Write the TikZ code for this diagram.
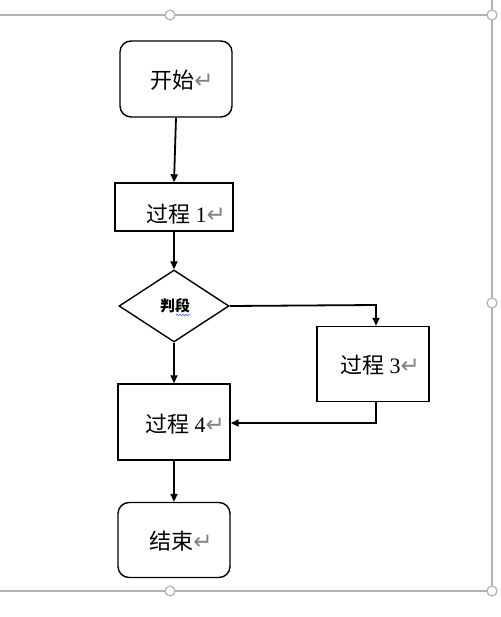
\documentclass[tikz,border=0pt]{standalone}
\usepackage{fontspec}
\setmainfont{Liberation Serif}
\newfontfamily\cjk{Noto Sans CJK SC}
\newfontfamily\symf{DejaVu Sans}
\usetikzlibrary{arrows.meta,shapes.geometric,decorations.pathmorphing}
\definecolor{frameg}{RGB}{178,178,178}
\definecolor{retg}{RGB}{130,130,130}
\definecolor{wavyb}{RGB}{70,110,200}
\newcommand{\retmark}{{\color{retg}\symf\fontsize{23}{23}\selectfont ↵}}
\begin{document}
\begin{tikzpicture}[x=1pt,y=-1pt,
  shapebox/.style={draw=black,line width=1.4pt,inner sep=0pt},
  roundbox/.style={shapebox,rectangle,rounded corners=11pt},
  procbox/.style={shapebox,rectangle},
  decbox/.style={shapebox,diamond,aspect=1.5},
  lbl/.style={inner sep=0pt,font=\fontsize{22}{22}\selectfont},
  conn/.style={line width=1.8pt,-{Triangle[length=8pt,width=7pt]}},
  frameline/.style={draw=frameg,line width=1.4pt},
  handle/.style={circle,draw=frameg,fill=white,line width=1.2pt,minimum size=10pt,inner sep=0pt}]
\useasboundingbox (0,0) rectangle (500,617);
% selection frame
\coordinate (ftl) at (0,15);
\coordinate (ftr) at (492,15);
\coordinate (fbl) at (0,591);
\coordinate (fbr) at (492,591);
\coordinate (frt) at (492,0);
\draw[frameline] (ftl) -- (ftr);
\draw[frameline] (fbl) -- (fbr);
\draw[frameline] (frt) -- (fbr);
\node[handle] (h1) at (170,15) {};
\node[handle] (h2) at (492,15) {};
\node[handle] (h3) at (492,303) {};
\node[handle] (h4) at (170,591) {};
\node[handle] (h5) at (492,591) {};
% shapes
\node[roundbox,minimum width=112pt,minimum height=76pt] (start) at (176,79) {};
\node[lbl] (startt) at (182,80) {\cjk 开始\retmark};
\node[procbox,minimum width=118pt,minimum height=48pt] (p1) at (174,207) {};
\node[lbl] (p1t) at (186,214) {{\cjk 过程} 1\retmark};
\node[decbox,minimum width=110pt,minimum height=72pt] (dec) at (174,306) {};
\node[inner sep=0pt,font=\cjk\bfseries\fontsize{15}{15}\selectfont] (dect) at (175,306) {判段};
\draw[wavyb,line width=0.6pt,decorate,decoration={snake,amplitude=0.8pt,segment length=3pt}] ([xshift=1pt,yshift=-1.5pt]dect.south) -- ([yshift=-1.5pt]dect.south east);
\node[procbox,minimum width=112pt,minimum height=75pt] (p3) at (373,364) {};
\node[lbl] (p3t) at (380,365) {{\cjk 过程} 3\retmark};
\node[procbox,minimum width=112pt,minimum height=76pt] (p4) at (174,422) {};
\node[lbl] (p4t) at (185,424) {{\cjk 过程} 4\retmark};
\node[roundbox,minimum width=112pt,minimum height=75pt] (end) at (174,540) {};
\node[lbl] (endt) at (181,541) {\cjk 结束\retmark};
% connectors
\draw[conn] (start.south) -- (p1.north);
\draw[conn] (p1.south) -- (dec.north);
\draw[conn] (dec.south) -- (p4.north);
\draw[conn] (p4.south) -- (end.north);
\coordinate (c1) at (376,305);
\coordinate (c2) at (376,423);
\draw[conn] (dec.east) -- (c1) -- (c1 |- p3.north);
\draw[conn] (c1 |- p3.south) -- (c2) -- (p4.east |- c2);
\end{tikzpicture}
\end{document}
